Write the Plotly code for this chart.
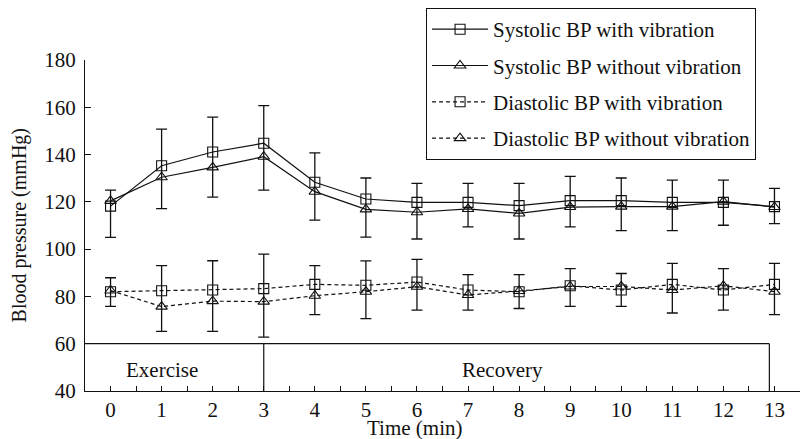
import plotly.graph_objects as go

# ---- data ----
time_min = list(range(14))
x_ticks = list(range(14))
y_ticks = [40, 60, 80, 100, 120, 140, 160, 180]

sys_vib = [118.2, 135.3, 141.1, 144.8, 128.3, 121.2, 119.8, 119.8, 118.4, 120.5, 120.5, 119.8, 119.8, 118.0]
sys_vib_sd = [6.8, 15.5, 14.7, 15.9, 12.4, 8.9, 8.0, 8.0, 9.4, 10.3, 9.6, 9.4, 9.4, 7.7]
sys_novib = [120.4, 130.4, 134.6, 139.1, 124.3, 116.8, 115.6, 117.0, 115.1, 117.8, 118.0, 118.0, 120.1, 117.8]
sys_novib_sd = [15.4, 13.3, 12.6, 14.1, 12.0, 11.7, 11.3, 7.6, 10.8, 8.4, 10.2, 10.2, 10.0, 7.0]

dia_vib = [82.0, 82.4, 82.7, 83.3, 85.1, 84.7, 86.1, 82.7, 82.0, 84.5, 82.7, 85.1, 82.7, 85.1]
dia_vib_sd = [5.9, 10.6, 12.4, 14.6, 7.9, 10.3, 9.6, 6.5, 7.2, 7.3, 7.0, 8.9, 9.1, 8.9]
dia_novib = [82.5, 75.7, 78.0, 77.8, 80.3, 82.0, 84.1, 80.6, 82.3, 84.2, 84.2, 82.7, 84.5, 82.0]
dia_novib_sd = [6.7, 10.5, 12.8, 15.0, 8.0, 11.4, 9.9, 6.4, 7.4, 8.4, 8.4, 9.7, 10.3, 9.7]

phase_names = ["Exercise", "Recovery"]
phase_start = [-0.5, 3]
phase_end = [3, 12.9]
phase_label_x = [1.0, 7.67]

FONT = "Liberation Serif"
BLACK = "#111111"

fig = go.Figure()


def lower_span(center, other, other_sd):
    # one bar per time point: from the "without vibration" lower bound to the "with vibration" upper bound
    return [c - (o - s) for c, o, s in zip(center, other, other_sd)]


def add_series(name, y, dash, symbol, group, err=None):
    kw = {}
    if err is not None:
        kw["error_y"] = dict(type="data", symmetric=False, array=err[0], arrayminus=err[1],
                             color=BLACK, thickness=1.3, width=5.5)
    fig.add_trace(go.Scatter(
        x=time_min, y=y, name=name, mode="lines+markers",
        line=dict(color=BLACK, width=1.2, dash=dash),
        marker=dict(symbol=symbol, size=10, color=BLACK, line=dict(color=BLACK, width=1.1)),
        legendgroup=group, **kw))


add_series("Systolic BP with vibration", sys_vib, "solid", "square-open", "a",
           err=(sys_vib_sd, lower_span(sys_vib, sys_novib, sys_novib_sd)))
add_series("Systolic BP without vibration", sys_novib, "solid", "triangle-up-open", "b")
add_series("Diastolic BP with vibration", dia_vib, "4px,3px", "square-open", "c",
           err=(dia_vib_sd, lower_span(dia_vib, dia_novib, dia_novib_sd)))
add_series("Diastolic BP without vibration", dia_novib, "4px,3px", "triangle-up-open", "d")

shapes = [dict(type="line", xref="x", yref="y", x0=phase_start[0], x1=phase_end[-1], y0=60, y1=60,
               line=dict(color=BLACK, width=1.2))]
for xe in phase_end:
    shapes.append(dict(type="line", xref="x", yref="y", x0=xe, x1=xe, y0=40, y1=60,
                       line=dict(color=BLACK, width=1.2)))
annotations = [dict(x=lx, y=49, xref="x", yref="y", text=n, showarrow=False,
                    font=dict(family=FONT, size=21, color=BLACK))
               for n, lx in zip(phase_names, phase_label_x)]
annotations.append(dict(x=5.95, y=-0.07, xref="x", yref="paper", yanchor="top",
                        text="Time (min)", showarrow=False,
                        font=dict(family=FONT, size=21, color=BLACK)))
annotations.append(dict(x=-0.091, y=0.5, xref="paper", yref="paper", xanchor="center",
                        yanchor="middle", textangle=-90, text="Blood pressure (mmHg)",
                        showarrow=False, font=dict(family=FONT, size=20, color=BLACK)))

fig.update_layout(
    width=802, height=439,
    margin=dict(l=85, r=2, t=60, b=48, autoexpand=False),
    paper_bgcolor="white", plot_bgcolor="white",
    font=dict(family=FONT, size=20, color=BLACK),
    showlegend=True,
    legend=dict(x=0.477, y=1.157, xanchor="left", yanchor="top",
                bordercolor=BLACK, borderwidth=1, bgcolor="white",
                font=dict(family=FONT, size=21, color=BLACK),
                traceorder="grouped", tracegroupgap=6, itemwidth=56),
    shapes=shapes, annotations=annotations,
    xaxis=dict(range=[-0.5, 13.5], tickmode="array", tickvals=x_ticks,
               ticks="inside", ticklen=5, tickcolor=BLACK, tickwidth=1,
               minor=dict(dtick=0.5, tick0=0, ticks="inside", ticklen=5, tickcolor=BLACK, tickwidth=1),
               showline=True, linecolor=BLACK, linewidth=1.3, showgrid=False, zeroline=False,
               tickfont=dict(size=21, family=FONT)),
    yaxis=dict(range=[40, 180], tickmode="array", tickvals=y_ticks,
               ticks="inside", ticklen=6, tickcolor=BLACK, tickwidth=1, ticklabelstandoff=4,
               showline=True, linecolor=BLACK, linewidth=1.3, showgrid=False, zeroline=False,
               tickfont=dict(size=21, family=FONT)),
)

fig.write_html("out.html", config={"displayModeBar": False},
               post_script="document.body.style.margin='0';")
